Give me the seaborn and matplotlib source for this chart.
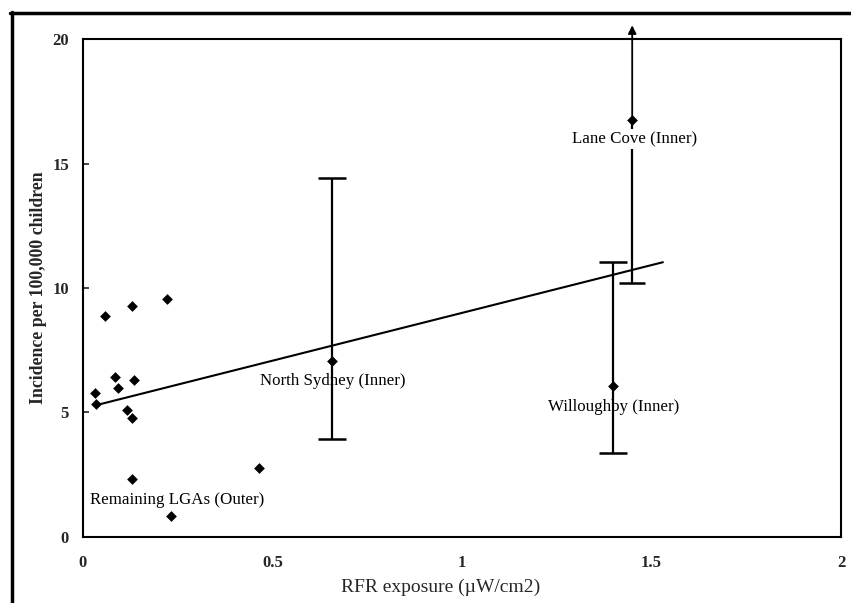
import matplotlib
matplotlib.use("Agg")
import matplotlib.pyplot as plt
import seaborn as sns
import pandas as pd
import numpy as np

# Remaining LGAs (Outer)
outer_x = [0.058, 0.129, 0.222, 0.084, 0.135, 0.092, 0.032, 0.034, 0.116, 0.129, 0.129, 0.232, 0.464]
outer_y = [8.88, 9.28, 9.56, 6.43, 6.31, 5.98, 5.78, 5.34, 5.10, 4.78, 2.33, 0.84, 2.77]

# Inner LGAs with confidence intervals
inner_names = ["North Sydney (Inner)", "Willoughby (Inner)", "Lane Cove (Inner)"]
inner_x = [0.657, 1.398, 1.449]
inner_y = [7.07, 6.06, 16.75]
inner_lo = [3.94, 3.37, 10.20]
inner_hi = [14.42, 11.04, 20.55]

# regression line
fit_x = [0.045, 1.53]
fit_intercept = 5.16
fit_slope = 3.84

x_ticks = [0, 0.5, 1, 1.5, 2]
x_ticklabels = ["0", "0.5", "1", "1.5", "2"]
y_ticks = [0, 5, 10, 15, 20]

sns.set_theme(style="white")
plt.rcParams['font.family'] = ['Liberation Serif', 'DejaVu Serif']

fig = plt.figure(figsize=(8.51, 6.03), dpi=100)
ax = fig.add_axes([0.0975, 0.1095, 0.8908, 0.8258])

pts = pd.DataFrame({"x": outer_x + inner_x, "y": outer_y + inner_y})
sns.scatterplot(data=pts, x="x", y="y", marker="D", s=30, color="black",
                edgecolor="black", linewidth=0, ax=ax, zorder=5)

line_df = pd.DataFrame({"x": fit_x,
                        "y": [fit_intercept + fit_slope * v for v in fit_x]})
sns.lineplot(data=line_df, x="x", y="y", color="black", linewidth=1.5, ax=ax, zorder=4)

# error bars for North Sydney and Willoughby
for i in range(2):
    ax.errorbar([inner_x[i]], [inner_y[i]],
                yerr=[[inner_y[i] - inner_lo[i]], [inner_hi[i] - inner_y[i]]],
                fmt="none", ecolor="black", elinewidth=1.6, capsize=10, capthick=1.8, zorder=3)
# Lane Cove: lower bar with cap, upper bar as arrow beyond axis
ax.vlines(inner_x[2], inner_lo[2], inner_y[2], color="black", linewidth=1.6, zorder=3)
ax.errorbar([inner_x[2]], [inner_lo[2]], xerr=[[0.035], [0.035]],
            fmt="none", ecolor="black", elinewidth=1.8, capsize=0, zorder=3)
ax.annotate("", xy=(inner_x[2], inner_hi[2]), xytext=(inner_x[2], inner_y[2]),
            arrowprops=dict(arrowstyle="-|>", color="black", lw=1.3, mutation_scale=12,
                            shrinkA=0, shrinkB=0),
            annotation_clip=False, zorder=3)

lab_kw = dict(fontsize=12.2, color="black", va="center")
ax.text(0.019, 1.50, "Remaining LGAs (Outer)", ha="left", **lab_kw)
ax.text(0.66, 6.28, inner_names[0], ha="center", **lab_kw)
ax.text(1.40, 5.22, inner_names[1], ha="center", **lab_kw)
ax.text(1.454, 15.97, inner_names[2], ha="center", zorder=6,
        bbox=dict(facecolor="white", edgecolor="none", pad=1.5), **lab_kw)

ax.set_xlim(0, 2)
ax.set_ylim(0, 20)
ax.set_xticks(x_ticks)
ax.set_xticklabels(x_ticklabels, fontsize=12, fontweight="bold")
ax.set_yticks(y_ticks)
ax.set_yticklabels([str(v) for v in y_ticks], fontsize=12, fontweight="bold")
ax.tick_params(axis="x", length=0, pad=13)
ax.tick_params(axis="y", direction="in", length=4, width=1.2, pad=10, left=True)
ax.set_xlabel("RFR exposure (\u00b5W/cm2)", fontsize=14)
ax.xaxis.set_label_coords(0.472, -0.083)
ax.set_ylabel("Incidence per 100,000 children", fontsize=12.8, fontweight="bold", labelpad=4)
for sp in ax.spines.values():
    sp.set_visible(True)
    sp.set_color("black")
    sp.set_linewidth(1.5)

# outer frame lines (top and left)
fig.add_artist(plt.Line2D([10 / 851, 1.0], [1 - 13 / 603, 1 - 13 / 603],
                          transform=fig.transFigure, color="black", linewidth=2.5))
fig.add_artist(plt.Line2D([12 / 851, 12 / 851], [1 - 12 / 603, 0.0],
                          transform=fig.transFigure, color="black", linewidth=2.5))

fig.savefig("out.png", dpi=100)
